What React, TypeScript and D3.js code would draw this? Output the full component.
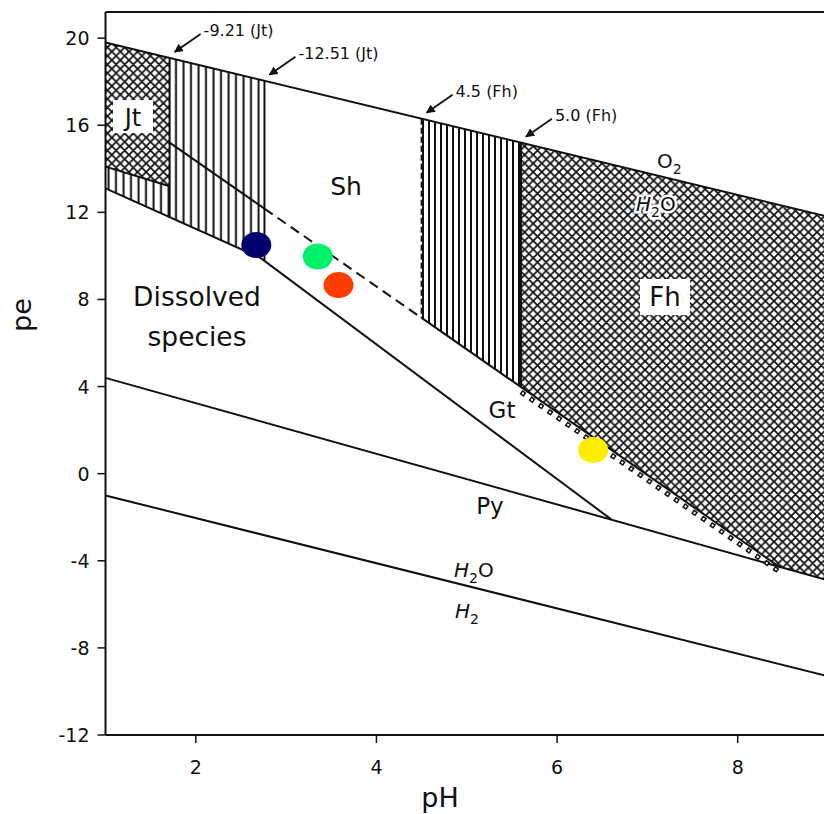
import React from 'react';
import * as d3 from 'd3';

// axis ticks
const phTicks = [2, 4, 6, 8];
const peTicks = [-12, -8, -4, 0, 4, 8, 12, 16, 20];

// boundary lines, as [pH, pe]
const o2Line = [[1, 19.8], [9, 11.8]];
const h2Line = [[1, -1.0], [9, -9.3]];
const pyLine = [[1, 4.4], [9, -4.9]];
const dissolvedLine = [[1, 13.1], [2.72, 9.9], [6.6, -2.1]];
const shGtLine = [[1.71, 15.2], [8.47, -4.3]];
const jtLine = [[1, 14.1], [1.71, 13.2]];

// log K limits (pH where the vertical borders sit)
const jtLimits = [1.71, 2.76];
const fhLimits = [4.5, 5.6];
const limitPh = [1.71, 2.76, 4.5, 5.6];
const limitLabels = ['-9.21 (Jt)', '-12.51 (Jt)', '4.5 (Fh)', '5.0 (Fh)'];

// sample points
const samplePh = [2.67, 3.35, 3.58, 6.4];
const samplePe = [10.5, 9.97, 8.66, 1.09];
const sampleColors = ['#00006e', '#00f06a', '#ff3c00', '#ffee00'];

const W = 824, H = 814;
const x = d3.scaleLinear().domain([1, 9]).range([105.5, 828]);
const y = d3.scaleLinear().domain([-12, 21.2]).range([735, 12]);
const FONT = 'DejaVu Sans, sans-serif';

const line = d3.line().x(d => x(d[0])).y(d => y(d[1]));

// points of a polyline between pH a and pH b
function along(pts, a, b) {
  const f = d3.scaleLinear().domain(pts.map(p => p[0])).range(pts.map(p => p[1]));
  const lo = Math.min(a, b), hi = Math.max(a, b);
  let mid = pts.filter(p => p[0] > lo && p[0] < hi);
  if (a > b) mid = mid.slice().reverse();
  return [[a, f(a)], ...mid, [b, f(b)]];
}
const at = (pts, ph) => along(pts, ph, ph)[0][1];

function Regions() {
  const jtCross = [...along(o2Line, 1, jtLimits[0]), ...along(jtLine, jtLimits[0], 1)];
  const strip = [...along(jtLine, 1, jtLimits[0]), ...along(dissolvedLine, jtLimits[0], 1)];
  const regionA = [...along(o2Line, jtLimits[0], jtLimits[1]), ...along(dissolvedLine, jtLimits[1], jtLimits[0])];
  const regionB = [...along(o2Line, fhLimits[0], fhLimits[1]), ...along(shGtLine, fhLimits[1], fhLimits[0])];
  const fh = [
    ...along(o2Line, fhLimits[1], 9),
    ...along(pyLine, 9, shGtLine[1][0]),
    ...along(shGtLine, shGtLine[1][0], fhLimits[1]),
  ];
  return (
    <g>
      <path d={line(jtCross) + 'Z'} fill="url(#cross)" />
      <path d={line(strip) + 'Z'} fill="url(#vert)" />
      <path d={line(regionA) + 'Z'} fill="url(#vert)" />
      <path d={line(regionB) + 'Z'} fill="url(#vert2)" />
      <path d={line(fh) + 'Z'} fill="url(#cross)" />
    </g>
  );
}

function Boundaries() {
  const s = { fill: 'none', stroke: '#111', strokeWidth: 2 };
  const vline = (ph, lower, dash?) => (
    <line x1={x(ph)} x2={x(ph)} y1={y(at(o2Line, ph))} y2={y(at(lower, ph))}
      stroke="#111" strokeWidth={2} strokeDasharray={dash} />
  );
  return (
    <g>
      <path d={line(o2Line)} {...s} />
      <path d={line(h2Line)} {...s} />
      <path d={line(pyLine)} {...s} />
      <path d={line(dissolvedLine)} {...s} />
      <path d={line(jtLine)} {...s} />
      <path d={line(along(shGtLine, jtLimits[0], jtLimits[1]))} {...s} />
      <path d={line(along(shGtLine, jtLimits[1], fhLimits[0]))} {...s} strokeDasharray="10 6" />
      <path d={line(along(shGtLine, fhLimits[0], shGtLine[1][0]))} {...s} />
      {/* little blocky edge under Fh */}
      <path d={line(along(shGtLine, fhLimits[1], shGtLine[1][0]))} fill="none" stroke="#111"
        strokeWidth={5} strokeDasharray="5 6" transform="translate(0,5)" />
      <path d={line(along(shGtLine, fhLimits[1], shGtLine[1][0]))} fill="none" stroke="white"
        strokeWidth={2} strokeDasharray="2 9" strokeDashoffset={-1.5} transform="translate(0,5)" />
      {vline(jtLimits[0], dissolvedLine)}
      {vline(jtLimits[1], dissolvedLine)}
      {vline(fhLimits[0], shGtLine, '6 3')}
      {vline(fhLimits[1], shGtLine)}
    </g>
  );
}

function Annotations() {
  return (
    <g fontFamily={FONT} fontSize={16} fill="#111">
      {limitPh.map((ph, i) => {
        const tx = x(ph) + 1, ty = y(at(o2Line, ph)) - 3;
        return (
          <g key={i}>
            <line x1={tx + 30} y1={ty - 21} x2={tx + 4} y2={ty - 3} stroke="#111" strokeWidth={1.8}
              markerEnd="url(#arrow)" />
            <text x={tx + 33} y={ty - 19}>{limitLabels[i]}</text>
          </g>
        );
      })}
    </g>
  );
}

function Labels() {
  const halo = { stroke: 'white', strokeWidth: 5, paintOrder: 'stroke' as const };
  return (
    <g fontFamily={FONT} fill="#111">
      <rect x={113} y={100} width={40} height={33} fill="white" />
      <text x={133} y={126} fontSize={24} textAnchor="middle">Jt</text>
      <text x={346} y={195} fontSize={25} textAnchor="middle">Sh</text>
      <text x={197} y={306} fontSize={26.5} textAnchor="middle">Dissolved</text>
      <text x={197} y={346} fontSize={26.5} textAnchor="middle">species</text>
      <text x={502} y={418} fontSize={23} textAnchor="middle">Gt</text>
      <text x={490} y={514} fontSize={23} textAnchor="middle">Py</text>
      <rect x={640} y={279} width={50} height={36} fill="white" />
      <text x={665} y={306} fontSize={26} textAnchor="middle">Fh</text>
      <text x={657} y={168} fontSize={20} {...halo}>O<tspan dy={6} fontSize={14}>2</tspan></text>
      <text x={636} y={211} fontSize={20} {...halo}>
        <tspan fontStyle="italic">H</tspan><tspan dy={6} fontSize={14}>2</tspan><tspan dy={-6}>O</tspan>
      </text>
      <text x={454} y={577} fontSize={20}>
        <tspan fontStyle="italic">H</tspan><tspan dy={6} fontSize={14}>2</tspan><tspan dy={-6}>O</tspan>
      </text>
      <text x={455} y={618} fontSize={20}>
        <tspan fontStyle="italic">H</tspan><tspan dy={6} fontSize={14}>2</tspan>
      </text>
    </g>
  );
}

function Axes() {
  const x0 = x(1), yb = y(-12), yt = y(21.2);
  return (
    <g fontFamily={FONT} fill="#111">
      <line x1={x0} x2={x0} y1={yt} y2={yb} stroke="#111" strokeWidth={2} />
      <line x1={x0} x2={W} y1={yb} y2={yb} stroke="#111" strokeWidth={2} />
      <line x1={x0} x2={W} y1={yt} y2={yt} stroke="#111" strokeWidth={2} />
      {peTicks.map(t => (
        <g key={t}>
          <line x1={x0 - 8} x2={x0} y1={y(t)} y2={y(t)} stroke="#111" strokeWidth={1.5} />
          <text x={x0 - 16} y={y(t) + 7} fontSize={19} textAnchor="end">{t}</text>
        </g>
      ))}
      {phTicks.map(t => (
        <g key={t}>
          <line x1={x(t)} x2={x(t)} y1={yb} y2={yb + 8} stroke="#111" strokeWidth={1.5} />
          <text x={x(t)} y={yb + 39} fontSize={19} textAnchor="middle">{t}</text>
        </g>
      ))}
      <text x={440} y={807} fontSize={27} textAnchor="middle">pH</text>
      <text transform="translate(31,315) rotate(-90)" fontSize={27} textAnchor="middle">pe</text>
    </g>
  );
}

export default function App() {
  const s = 8.6;
  return (
    <svg width={W} height={H} style={{ position: 'absolute', left: 0, top: 0, background: 'white' }}>
      <defs>
        <pattern id="cross" width={s} height={s} patternUnits="userSpaceOnUse">
          <path d={`M0,0L${s},${s}M${s},0L0,${s}M-1,1L1,-1M${s - 1},${s + 1}L${s + 1},${s - 1}M-1,${s - 1}L1,${s + 1}M${s - 1},-1L${s + 1},1`}
            stroke="#111" strokeWidth={1.8} />
        </pattern>
        <pattern id="vert" width={7.5} height={10} patternUnits="userSpaceOnUse">
          <line x1={3.5} x2={3.5} y1={0} y2={10} stroke="#111" strokeWidth={2} />
        </pattern>
        <pattern id="vert2" width={6} height={10} patternUnits="userSpaceOnUse">
          <line x1={3} x2={3} y1={0} y2={10} stroke="#111" strokeWidth={2} />
        </pattern>
        <marker id="arrow" viewBox="0 0 10 10" refX={9} refY={5} markerWidth={5} markerHeight={5}
          orient="auto" markerUnits="strokeWidth">
          <path d="M0,0L10,5L0,10Z" fill="#111" />
        </marker>
        <clipPath id="plot">
          <rect x={x(1)} y={y(21.2)} width={W - x(1)} height={y(-12) - y(21.2)} />
        </clipPath>
      </defs>
      <g clipPath="url(#plot)">
        <Regions />
        <Boundaries />
      </g>
      <Labels />
      <Annotations />
      <Axes />
      {samplePh.map((ph, i) => (
        <ellipse key={i} cx={x(ph)} cy={y(samplePe[i])} rx={15} ry={13} fill={sampleColors[i]} />
      ))}
    </svg>
  );
}
